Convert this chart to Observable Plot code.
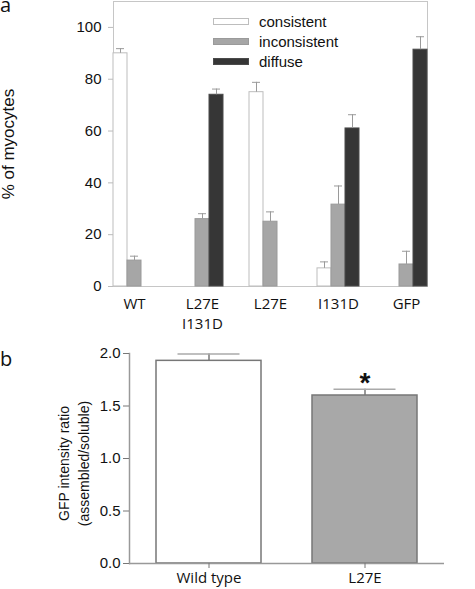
<!DOCTYPE html>
<html>
<head>
<meta charset="utf-8">
<script src="https://cdn.jsdelivr.net/npm/d3@7"></script>
<script src="https://cdn.jsdelivr.net/npm/@observablehq/plot@0.6"></script>
<style>
  html, body { margin: 0; padding: 0; background: #fff; }
  #wrap { position: relative; width: 475px; height: 589px; overflow: hidden; font-family: "Liberation Sans", Arial, sans-serif; }
  .pl { position: absolute; left: 0; }
  .letter { position: absolute; left: 0; font-family: "Open Sans", sans-serif; font-size: 20px; line-height: 10px; color: #111; }
  #legend { position: absolute; left: 213px; top: 11px; font-size: 15px; color: #111; }
  #legend .row { display: flex; align-items: center; height: 20px; }
  #legend .sw { width: 36px; height: 7px; box-sizing: border-box; margin-right: 10px; }
  #ylabA { position: absolute; left: -91px; top: 134px; width: 200px; height: 20px; line-height: 20px; text-align: center;
           font-size: 17px; color: #111; transform: rotate(-90deg); transform-origin: 50% 50%; }
</style>
</head>
<body>
<div id="wrap">
  <div id="pa" class="pl" style="top:0"></div>
  <div id="pb" class="pl" style="top:330px"></div>
  <div class="letter" style="top:0px">a</div>
  <div class="letter" style="top:354px">b</div>
  <div id="ylabA"></div>
  <div id="legend"></div>
</div>
<script>
// ---- Panel a data ----
const categories = ["WT", "L27E\nI131D", "L27E", "I131D", "GFP"];
const series = ["consistent", "inconsistent", "diffuse"];
const consistent = [90, 0, 75, 7, 0];
const consistentErr = [1.8, 0, 3.8, 2.5, 0];
const inconsistent = [10, 26, 25, 31.6, 8.5];
const inconsistentErr = [1.7, 2.1, 3.8, 7.2, 5.1];
const diffuse = [0, 74, 0, 61, 91.4];
const diffuseErr = [0, 2.2, 0, 5.3, 5.0];
const yTicksA = [0, 20, 40, 60, 80, 100];
const yLabelA = "% of myocytes";

// ---- Panel b data ----
const groups = ["Wild type", "L27E"];
const ratio = [1.93, 1.60];
const ratioErr = [0.065, 0.06];
const yTicksB = [0, 0.5, 1.0, 1.5, 2.0];
const yLabelB = "GFP intensity ratio\n(assembled/soluble)";

// styles
const fillsA = {consistent: "#ffffff", inconsistent: "#a6a6a6", diffuse: "#363636"};
const strokesA = {consistent: "#bdbdbd", inconsistent: "#9a9a9a", diffuse: "#4a4a4a"};
const fillsB = ["#ffffff", "#a8a8a8"];

const valuesBySeries = {consistent, inconsistent, diffuse};
const errBySeries = {consistent: consistentErr, inconsistent: inconsistentErr, diffuse: diffuseErr};
const dataA = [];
series.forEach(s => categories.forEach((c, i) => {
  dataA.push({category: c, series: s, value: valuesBySeries[s][i], err: errBySeries[s][i]});
}));

const marksA = [
  Plot.frame({facet: "super", stroke: "#c6c6c6"})
];
series.forEach(s => {
  const d = dataA.filter(r => r.series === s && r.value > 0);
  marksA.push(Plot.barY(d, {fx: "category", x: "series", y: "value", fill: fillsA[s], stroke: strokesA[s], strokeWidth: 1}));
  marksA.push(Plot.ruleX(d, {fx: "category", x: "series", y1: "value", y2: r => r.value + r.err, stroke: "#9a9a9a", strokeWidth: 1}));
  marksA.push(Plot.tickY(d, {fx: "category", x: "series", y: r => r.value + r.err, insetLeft: 3, insetRight: 3, stroke: "#9a9a9a", strokeWidth: 1}));
});
marksA.push(
  Plot.axisY({ticks: yTicksA, tickSize: 5, tickPadding: 7, stroke: "#bbb", fill: "#111", fontSize: 15, label: null}),
  Plot.axisFx({anchor: "bottom", tickSize: 0, tickPadding: 9, fontSize: 15, fontFamily: "Open Sans", lineHeight: 1.3, fill: "#111", label: null})
);

const plotA = Plot.plot({
  width: 475, height: 330,
  marginLeft: 65, marginRight: 1, marginTop: 1, marginBottom: 44,
  style: {fontFamily: "Liberation Sans, Arial, sans-serif", fontSize: "15px", background: "transparent", overflow: "visible"},
  fx: {domain: categories, paddingInner: 0.384, paddingOuter: 0.692, label: null},
  x: {domain: series, padding: 0, axis: null},
  y: {domain: [0, 110], axis: null},
  marks: marksA
});
document.getElementById("pa").appendChild(plotA);
document.getElementById("ylabA").textContent = yLabelA;

// legend
const leg = document.getElementById("legend");
series.forEach(s => {
  const row = document.createElement("div"); row.className = "row";
  const sw = document.createElement("div"); sw.className = "sw";
  sw.style.background = fillsA[s]; sw.style.border = "1px solid " + strokesA[s];
  const t = document.createElement("span"); t.textContent = s;
  row.appendChild(sw); row.appendChild(t); leg.appendChild(row);
});

// ---- Panel b ----
const dataB = groups.map((g, i) => ({group: g, ratio: ratio[i], err: ratioErr[i], fill: fillsB[i]}));
const plotB = Plot.plot({
  width: 475, height: 259,
  marginLeft: 129, marginRight: 31, marginTop: 23, marginBottom: 26,
  style: {fontFamily: "Liberation Sans, Arial, sans-serif", fontSize: "15px", background: "transparent", overflow: "visible"},
  x: {domain: groups, paddingInner: 0.33, paddingOuter: 0.17, axis: null},
  y: {domain: [0, 2], axis: null},
  marks: [
    Plot.barY(dataB, {x: "group", y: "ratio", fill: "fill", stroke: "#777", strokeWidth: 1.5}),
    Plot.ruleX(dataB, {x: "group", y1: "ratio", y2: d => d.ratio + d.err, stroke: "#777", strokeWidth: 1.5}),
    Plot.tickY(dataB, {x: "group", y: d => d.ratio + d.err, insetLeft: 21.5, insetRight: 21.5, stroke: "#aaa", strokeWidth: 1.5}),
    Plot.frame({anchor: "left", stroke: "#999", strokeWidth: 1.5}),
    Plot.ruleY([0], {stroke: "#999", strokeWidth: 1.5}),
    Plot.axisY({ticks: yTicksB, tickFormat: ".1f", tickSize: 6, tickPadding: 3, stroke: "#777", fill: "#111", fontSize: 15, label: null}),
    Plot.axisX({tickSize: 5, tickPadding: 4, stroke: "#777", fill: "#111", fontSize: 15, fontFamily: "Open Sans", label: null}),
    Plot.text(dataB.filter(d => d.group === "L27E"), {x: "group", y: d => d.ratio + d.err, text: () => "*", fontSize: 28, fontWeight: "bold", fill: "#111", lineAnchor: "middle", dy: -6}),
    Plot.text([yLabelB], {frameAnchor: "left", textAnchor: "middle", lineAnchor: "middle", rotate: -90, dx: -57, dy: 5, fontSize: 14, lineHeight: 1.43, fill: "#111"})
  ]
});
document.getElementById("pb").appendChild(plotB);
</script>
</body>
</html>
